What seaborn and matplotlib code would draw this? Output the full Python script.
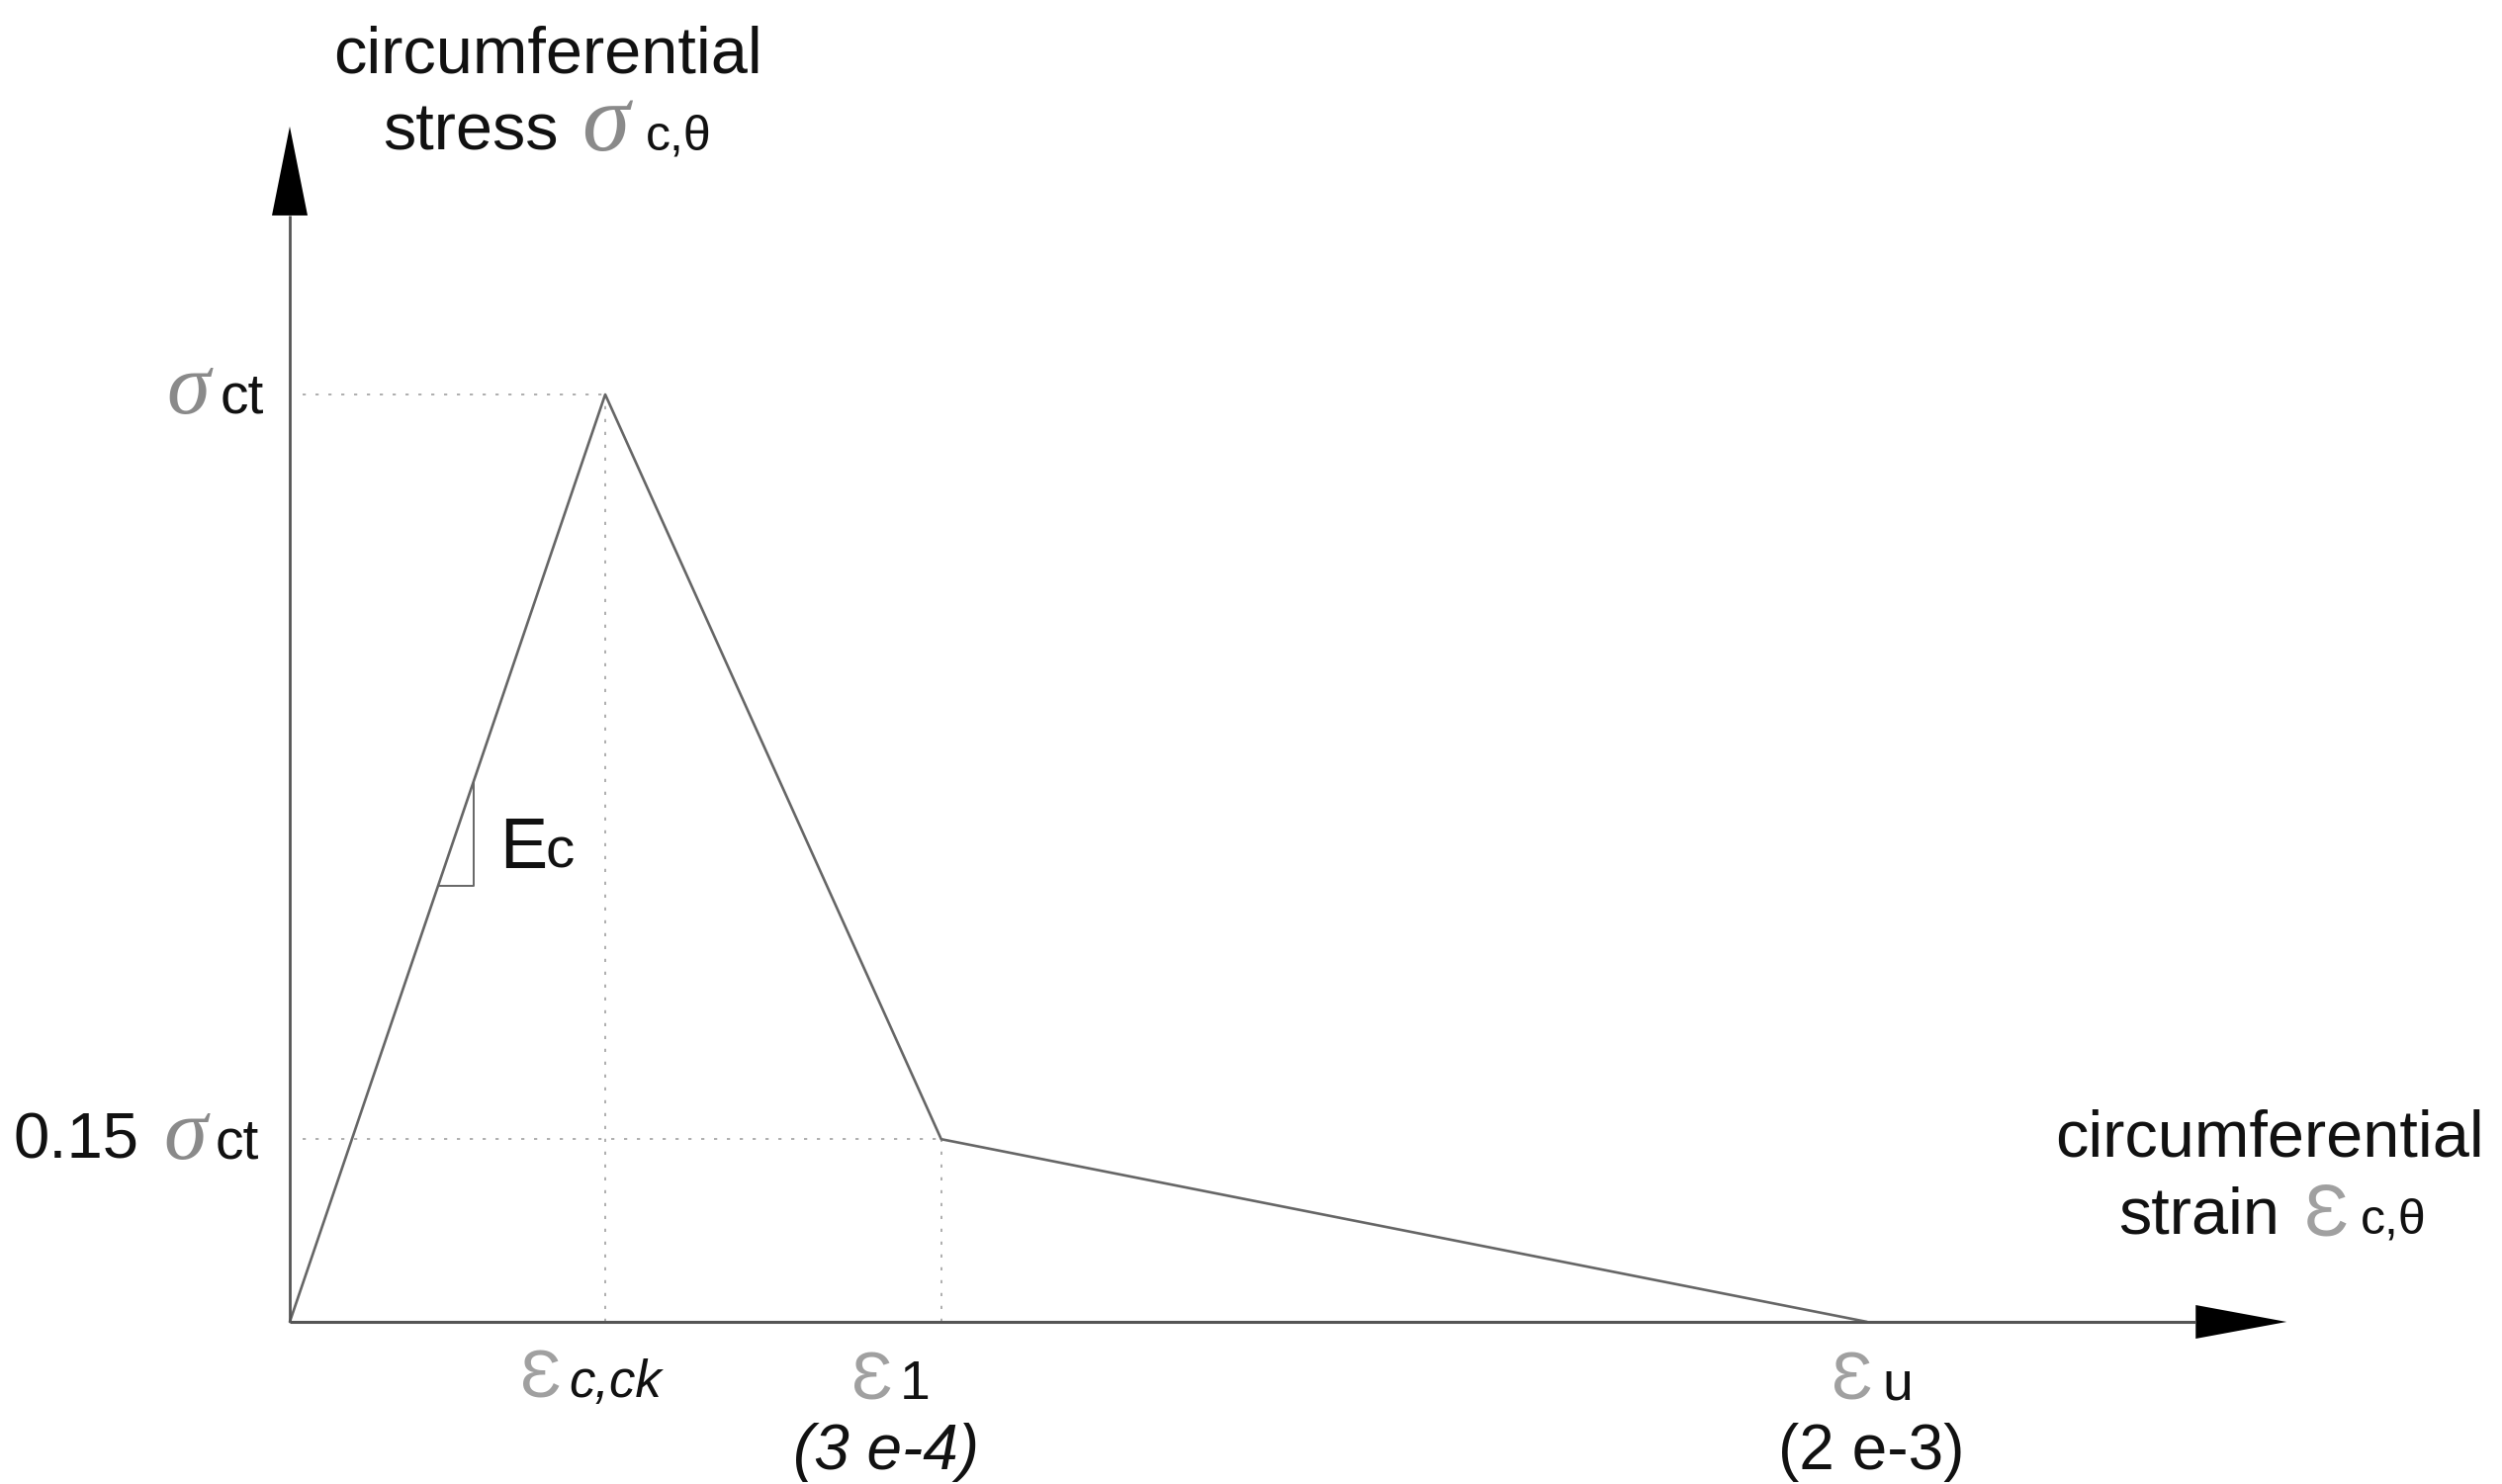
import matplotlib
matplotlib.use("Agg")
import matplotlib.pyplot as plt
from matplotlib.patches import Polygon
import seaborn as sns
import pandas as pd

# ---- data (schematic) ----
strain_pts = [0.0, 0.200, 0.413, 1.0]      # 0, eps_c,ck, eps_1, eps_u  (schematic units)
stress_pts = [0.0, 1.0, 0.197, 0.0]         # 0, sigma_ct, 0.15 sigma_ct, 0
x_axis_end = 1.266
y_axis_end = 1.289

sns.set_theme(style="white")
plt.rcParams['font.family'] = ['Liberation Sans', 'DejaVu Sans']

W, H = 2530, 1501
fig = plt.figure(figsize=(W / 100, H / 100), dpi=100)
ax = fig.add_axes([0, 0, 1, 1])

# pixel mapping: x=0 at px 293, 1 unit = 1595 px ; y=0 at px 1337 (from top), 1 unit = 938 px
PX_X, PX_Y = 1595.0, 938.0
X0, Y0 = 293.0, 1337.0
ax.set_xlim(-X0 / PX_X, (W - X0) / PX_X)
ax.set_ylim(-(H - Y0) / PX_Y, Y0 / PX_Y)
ax.set_axis_off()

df = pd.DataFrame({"strain": strain_pts, "stress": stress_pts})

# guide (dotted) lines
dot = (0, (1.8, 5.4))
gcol = "#a8a8a8"
ax.plot([0.008, strain_pts[1]], [stress_pts[1]] * 2, color=gcol, lw=1.3, ls=dot)
ax.plot([strain_pts[1]] * 2, [0, stress_pts[1]], color=gcol, lw=1.3, ls=dot)
ax.plot([0.008, strain_pts[2]], [stress_pts[2]] * 2, color=gcol, lw=1.3, ls=dot)
ax.plot([strain_pts[2]] * 2, [0, stress_pts[2]], color=gcol, lw=1.3, ls=dot)

# main curve
sns.lineplot(data=df, x="strain", y="stress", sort=False, estimator=None,
             color="#666666", lw=1.9, ax=ax, legend=False)

# axes with arrowheads
acol = "#555555"
hl_x, hw_x = 92 / PX_X, 17 / PX_Y
hl_y, hw_y = 90 / PX_Y, 18 / PX_X
ax.plot([0, x_axis_end - hl_x], [0, 0], color=acol, lw=2.2, solid_capstyle="butt")
ax.plot([0, 0], [0, y_axis_end - hl_y], color=acol, lw=2.0, solid_capstyle="butt")
ax.add_patch(Polygon([[x_axis_end, 0], [x_axis_end - hl_x, hw_x], [x_axis_end - hl_x, -hw_x]],
                     closed=True, color="black", lw=0))
ax.add_patch(Polygon([[0, y_axis_end], [-hw_y, y_axis_end - hl_y], [hw_y, y_axis_end - hl_y]],
                     closed=True, color="black", lw=0))

# Ec slope triangle
slope = stress_pts[1] / strain_pts[1]
tri_x = 0.1166
tri_ylow = 0.470
ax.plot([tri_ylow / slope, tri_x, tri_x], [tri_ylow, tri_ylow, tri_x * slope],
        color="#666666", lw=1.4)

# ---- text ----
GREY = "#8a8a8a"
EGREY = "#a0a0a0"
def put(x, y, s, size, ha="left", color="#111111", style="normal", family=None):
    kw = dict(fontsize=size, ha=ha, va="baseline", color=color, style=style)
    if family is not None:
        kw["family"] = family
    fig.text(x / W, 1 - y / H, s, **kw)

SIG = ['Liberation Serif', 'DejaVu Serif']
EPS = ['Liberation Sans', 'DejaVu Sans']

# y axis title
put(554, 74, "circumferential", 48, ha="center")
put(387, 152, "stress", 48)
put(588, 152, "σ", 70, color=GREY, style="italic", family=SIG)
put(653, 152, "c,θ", 36)

# y tick-like labels
put(168, 418, "σ", 64, color=GREY, style="italic", family=SIG)
put(223, 418, "ct", 41)
put(13, 1172, "0.15", 47)
put(165, 1172, "σ", 64, color=GREY, style="italic", family=SIG)
put(218, 1172, "ct", 41)

# x labels
put(526, 1413, "Ɛ", 50, color=EGREY, family=EPS)
put(575, 1413, "c,ck", 38, style="italic")
put(861, 1415, "Ɛ", 50, color=EGREY, family=EPS)
put(910, 1415, "1", 40)
put(896, 1486, "(3 e-4)", 46, ha="center", style="italic")
put(1852, 1415, "Ɛ", 50, color=EGREY, family=EPS)
put(1903, 1415, "u", 40)
put(1892, 1486, "(2 e-3)", 46, ha="center")

# x axis title
put(2295, 1170, "circumferential", 48, ha="center")
put(2142, 1248, "strain", 48)
put(2330, 1250, "Ɛ", 54, color=EGREY, family=EPS)
put(2387, 1248, "c,θ", 36)

# Ec
put(505, 878, "E", 52)
put(552, 878, "c", 42)

fig.savefig("out.png", dpi=100, facecolor="white")
